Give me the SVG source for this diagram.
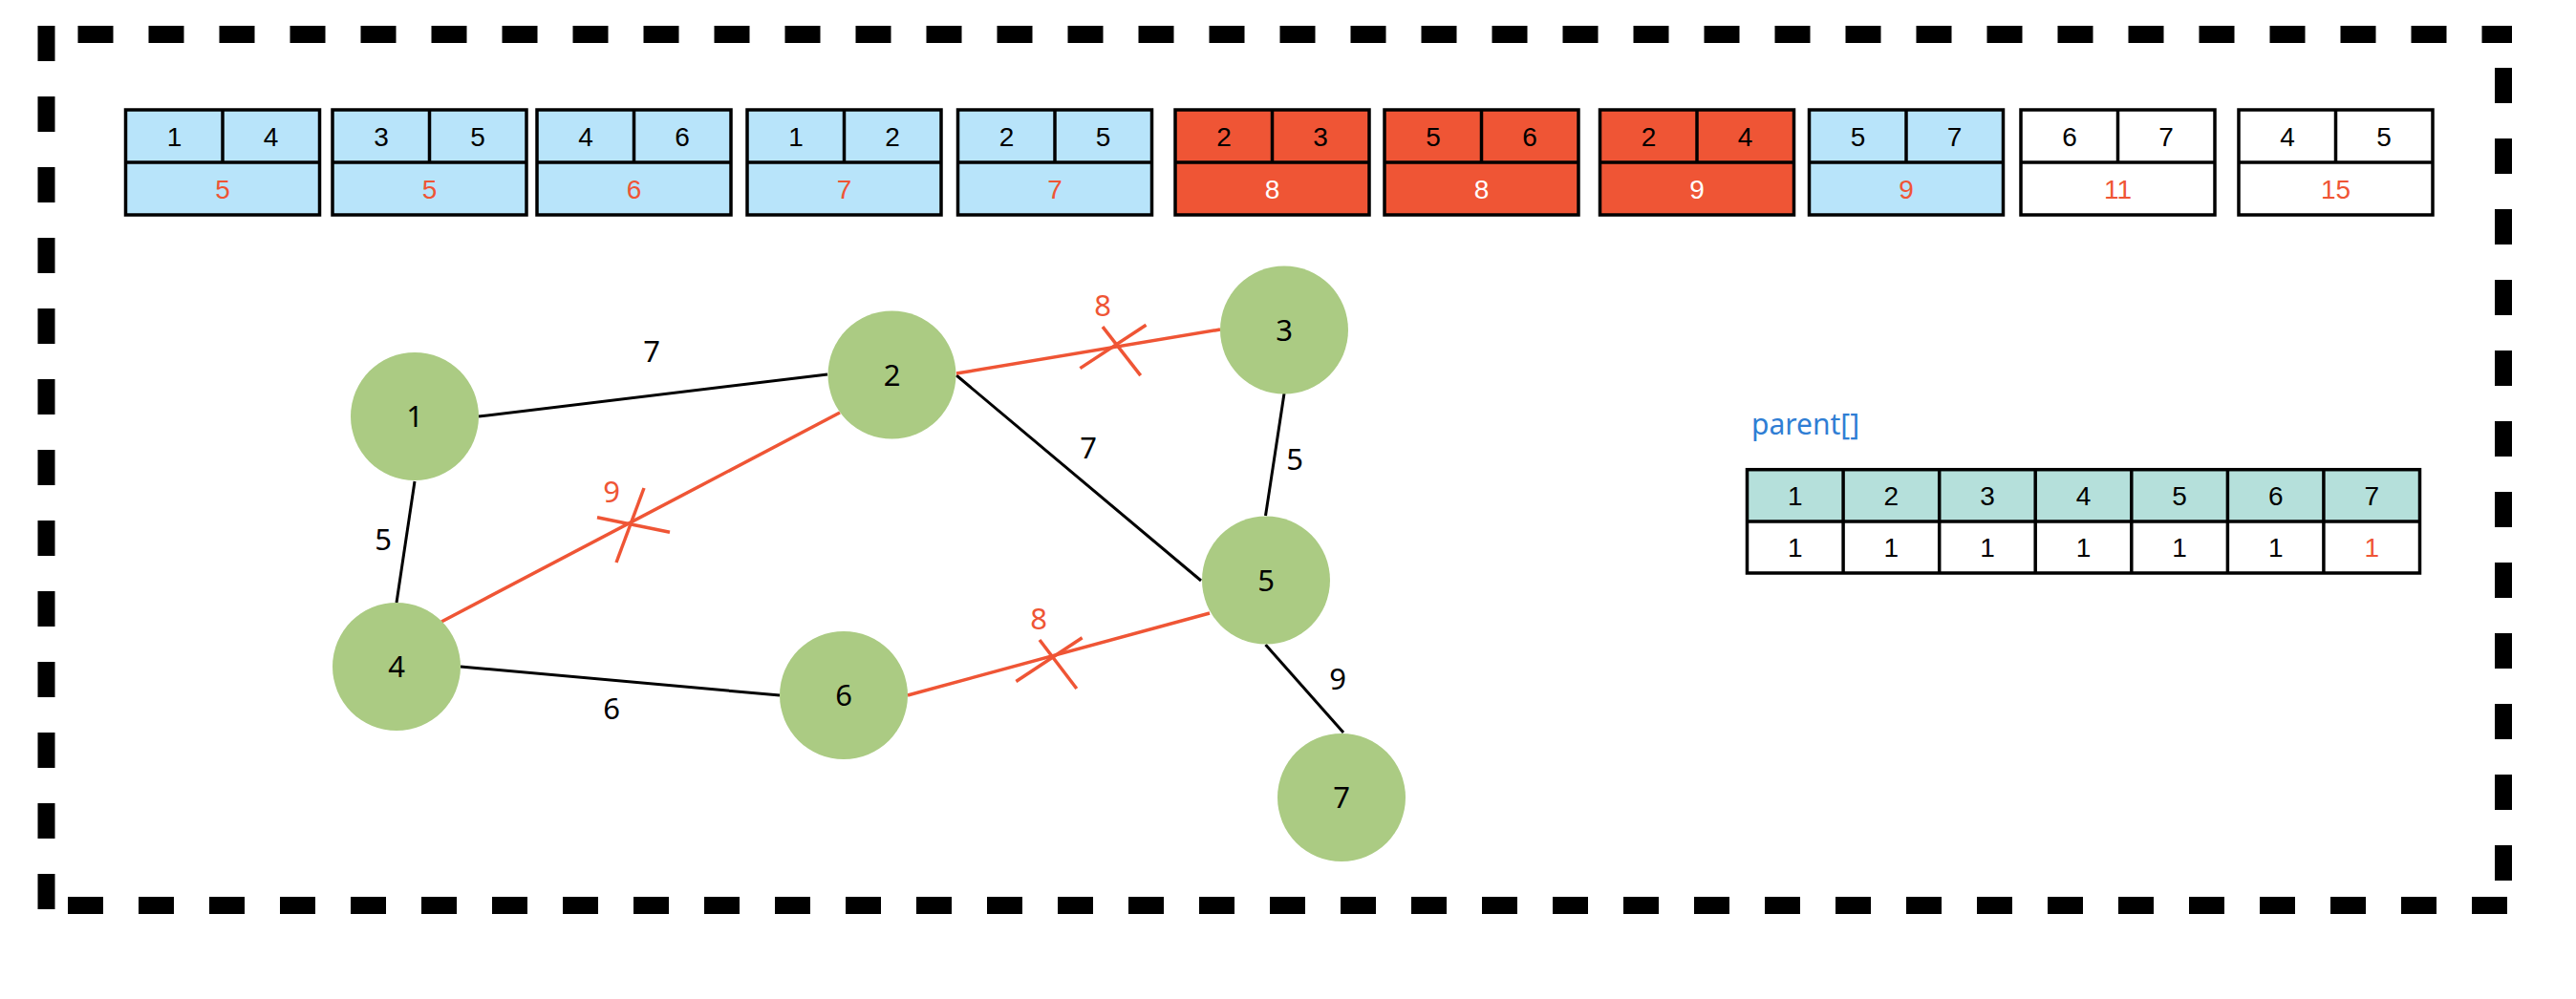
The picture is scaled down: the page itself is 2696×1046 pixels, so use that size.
<svg xmlns="http://www.w3.org/2000/svg" width="2696" height="1046" viewBox="0 0 2696 1046">
<style>
.bd{stroke:#000;stroke-width:18;stroke-dasharray:37 37;fill:none}
.bx{stroke:#000;stroke-width:3.5}
.bt{font-family:"Liberation Sans",Arial,sans-serif;font-size:28px;text-anchor:middle;fill:#000}
.wr{fill:#ef5535}
.ww{fill:#fff}
.blue{fill:#b8e4fa}
.red{fill:#ef5535}
.white{fill:#fff}
.node{fill:#abcb83}
.nl{font-family:"Noto Sans",sans-serif;font-size:31px;text-anchor:middle;fill:#000}
.e{stroke:#000;stroke-width:3;fill:none}
.er{stroke:#ef5535;stroke-width:3.5;fill:none}
.el{font-family:"Noto Sans",sans-serif;font-size:31px;text-anchor:middle;fill:#000}
.elr{fill:#ef5535}
</style>
<g id="border">
<line class="bd" x1="48.5" y1="27" x2="48.5" y2="953"/>
<line class="bd" x1="81.5" y1="36" x2="2629" y2="36"/>
<line class="bd" x1="2620" y1="71" x2="2620" y2="922"/>
<line class="bd" x1="71" y1="948" x2="2627" y2="948"/>
</g>
<g id="edge-list">
<g id="box1" transform="translate(131.5,115)"><rect class="bx blue" x="0" y="0" width="203" height="110"/><line class="bx" x1="101.5" y1="0" x2="101.5" y2="55"/><line class="bx" x1="0" y1="55" x2="203" y2="55"/><text class="bt" x="51" y="37.5">1</text><text class="bt" x="152" y="37.5">4</text><text class="bt wr" x="101.5" y="92.5">5</text></g>
<g id="box2" transform="translate(348,115)"><rect class="bx blue" x="0" y="0" width="203" height="110"/><line class="bx" x1="101.5" y1="0" x2="101.5" y2="55"/><line class="bx" x1="0" y1="55" x2="203" y2="55"/><text class="bt" x="51" y="37.5">3</text><text class="bt" x="152" y="37.5">5</text><text class="bt wr" x="101.5" y="92.5">5</text></g>
<g id="box3" transform="translate(562,115)"><rect class="bx blue" x="0" y="0" width="203" height="110"/><line class="bx" x1="101.5" y1="0" x2="101.5" y2="55"/><line class="bx" x1="0" y1="55" x2="203" y2="55"/><text class="bt" x="51" y="37.5">4</text><text class="bt" x="152" y="37.5">6</text><text class="bt wr" x="101.5" y="92.5">6</text></g>
<g id="box4" transform="translate(782,115)"><rect class="bx blue" x="0" y="0" width="203" height="110"/><line class="bx" x1="101.5" y1="0" x2="101.5" y2="55"/><line class="bx" x1="0" y1="55" x2="203" y2="55"/><text class="bt" x="51" y="37.5">1</text><text class="bt" x="152" y="37.5">2</text><text class="bt wr" x="101.5" y="92.5">7</text></g>
<g id="box5" transform="translate(1002.5,115)"><rect class="bx blue" x="0" y="0" width="203" height="110"/><line class="bx" x1="101.5" y1="0" x2="101.5" y2="55"/><line class="bx" x1="0" y1="55" x2="203" y2="55"/><text class="bt" x="51" y="37.5">2</text><text class="bt" x="152" y="37.5">5</text><text class="bt wr" x="101.5" y="92.5">7</text></g>
<g id="box6" transform="translate(1230,115)"><rect class="bx red" x="0" y="0" width="203" height="110"/><line class="bx" x1="101.5" y1="0" x2="101.5" y2="55"/><line class="bx" x1="0" y1="55" x2="203" y2="55"/><text class="bt" x="51" y="37.5">2</text><text class="bt" x="152" y="37.5">3</text><text class="bt ww" x="101.5" y="92.5">8</text></g>
<g id="box7" transform="translate(1449,115)"><rect class="bx red" x="0" y="0" width="203" height="110"/><line class="bx" x1="101.5" y1="0" x2="101.5" y2="55"/><line class="bx" x1="0" y1="55" x2="203" y2="55"/><text class="bt" x="51" y="37.5">5</text><text class="bt" x="152" y="37.5">6</text><text class="bt ww" x="101.5" y="92.5">8</text></g>
<g id="box8" transform="translate(1674.5,115)"><rect class="bx red" x="0" y="0" width="203" height="110"/><line class="bx" x1="101.5" y1="0" x2="101.5" y2="55"/><line class="bx" x1="0" y1="55" x2="203" y2="55"/><text class="bt" x="51" y="37.5">2</text><text class="bt" x="152" y="37.5">4</text><text class="bt ww" x="101.5" y="92.5">9</text></g>
<g id="box9" transform="translate(1893.5,115)"><rect class="bx blue" x="0" y="0" width="203" height="110"/><line class="bx" x1="101.5" y1="0" x2="101.5" y2="55"/><line class="bx" x1="0" y1="55" x2="203" y2="55"/><text class="bt" x="51" y="37.5">5</text><text class="bt" x="152" y="37.5">7</text><text class="bt wr" x="101.5" y="92.5">9</text></g>
<g id="box10" transform="translate(2115,115)"><rect class="bx white" x="0" y="0" width="203" height="110"/><line class="bx" x1="101.5" y1="0" x2="101.5" y2="55"/><line class="bx" x1="0" y1="55" x2="203" y2="55"/><text class="bt" x="51" y="37.5">6</text><text class="bt" x="152" y="37.5">7</text><text class="bt wr" x="101.5" y="92.5">11</text></g>
<g id="box11" transform="translate(2343,115)"><rect class="bx white" x="0" y="0" width="203" height="110"/><line class="bx" x1="101.5" y1="0" x2="101.5" y2="55"/><line class="bx" x1="0" y1="55" x2="203" y2="55"/><text class="bt" x="51" y="37.5">4</text><text class="bt" x="152" y="37.5">5</text><text class="bt wr" x="101.5" y="92.5">15</text></g>
</g>
<g id="connectors">
<line class="e" x1="501" y1="436" x2="866" y2="392"/>
<line class="e" x1="434" y1="504" x2="415" y2="631"/>
<line class="e" x1="482" y1="698" x2="816" y2="728"/>
<line class="er" x1="462" y1="651" x2="879" y2="432"/>
<line class="e" x1="1001" y1="393" x2="1257" y2="608"/>
<line class="er" x1="1001" y1="391" x2="1277" y2="345"/>
<line class="e" x1="1344" y1="412" x2="1324.5" y2="540"/>
<line class="er" x1="950" y1="728" x2="1266" y2="642"/>
<line class="e" x1="1324.5" y1="675" x2="1406" y2="767"/>
<g id="cross1"><line class="er" x1="625" y1="541.7" x2="701" y2="557.3"/><line class="er" x1="674" y1="511" x2="645" y2="589"/></g>
<g id="cross2"><line class="er" x1="1130.4" y1="385.6" x2="1199.5" y2="340.2"/><line class="er" x1="1154" y1="342.2" x2="1193.7" y2="393.1"/></g>
<g id="cross3"><line class="er" x1="1063.4" y1="713.5" x2="1132.6" y2="667.7"/><line class="er" x1="1088" y1="670" x2="1126.8" y2="721"/></g>
<text class="el" x="682" y="379">7</text>
<text class="el" x="401" y="576">5</text>
<text class="el" x="640" y="753">6</text>
<text class="el elr" x="640" y="526">9</text>
<text class="el elr" x="1154" y="331">8</text>
<text class="el" x="1139" y="480">7</text>
<text class="el" x="1355" y="492">5</text>
<text class="el elr" x="1087" y="659">8</text>
<text class="el" x="1400" y="722">9</text>
</g>
<g id="node1"><circle class="node" cx="434" cy="436" r="67"/><text class="nl" x="434" y="447">1</text></g>
<g id="node2"><circle class="node" cx="933.5" cy="392.5" r="67"/><text class="nl" x="933.5" y="403.5">2</text></g>
<g id="node3"><circle class="node" cx="1344" cy="345.5" r="67"/><text class="nl" x="1344" y="356.5">3</text></g>
<g id="node4"><circle class="node" cx="415" cy="698" r="67"/><text class="nl" x="415" y="709">4</text></g>
<g id="node5"><circle class="node" cx="1325" cy="607.5" r="67"/><text class="nl" x="1325" y="618.5">5</text></g>
<g id="node6"><circle class="node" cx="883" cy="728" r="67"/><text class="nl" x="883" y="739">6</text></g>
<g id="node7"><circle class="node" cx="1404" cy="835" r="67"/><text class="nl" x="1404" y="846">7</text></g>
<g id="parent-array">
<text x="1833" y="455" style="font-family:'Noto Sans',sans-serif;font-size:30px;fill:#2f7ed4">parent[]</text>
<rect x="1828.5" y="491.7" width="704" height="54.3" fill="#b5e0db"/>
<rect x="1828.5" y="546" width="704" height="54" fill="#fff"/>
<g class="bx" fill="none">
<rect x="1828.5" y="491.7" width="704" height="108.3"/>
<line x1="1828.5" y1="546" x2="2532.5" y2="546"/>
<line x1="1929.1" y1="491.7" x2="1929.1" y2="600"/>
<line x1="2029.7" y1="491.7" x2="2029.7" y2="600"/>
<line x1="2130.2" y1="491.7" x2="2130.2" y2="600"/>
<line x1="2230.8" y1="491.7" x2="2230.8" y2="600"/>
<line x1="2331.4" y1="491.7" x2="2331.4" y2="600"/>
<line x1="2431.9" y1="491.7" x2="2431.9" y2="600"/>
</g>
<text class="bt" x="1878.8" y="529">1</text><text class="bt" x="1979.4" y="529">2</text><text class="bt" x="2080" y="529">3</text><text class="bt" x="2180.5" y="529">4</text><text class="bt" x="2281.1" y="529">5</text><text class="bt" x="2381.7" y="529">6</text><text class="bt" x="2482.2" y="529">7</text>
<text class="bt" x="1878.8" y="583">1</text><text class="bt" x="1979.4" y="583">1</text><text class="bt" x="2080" y="583">1</text><text class="bt" x="2180.5" y="583">1</text><text class="bt" x="2281.1" y="583">1</text><text class="bt" x="2381.7" y="583">1</text><text class="bt wr" x="2482.2" y="583">1</text>
</g>
</svg>
